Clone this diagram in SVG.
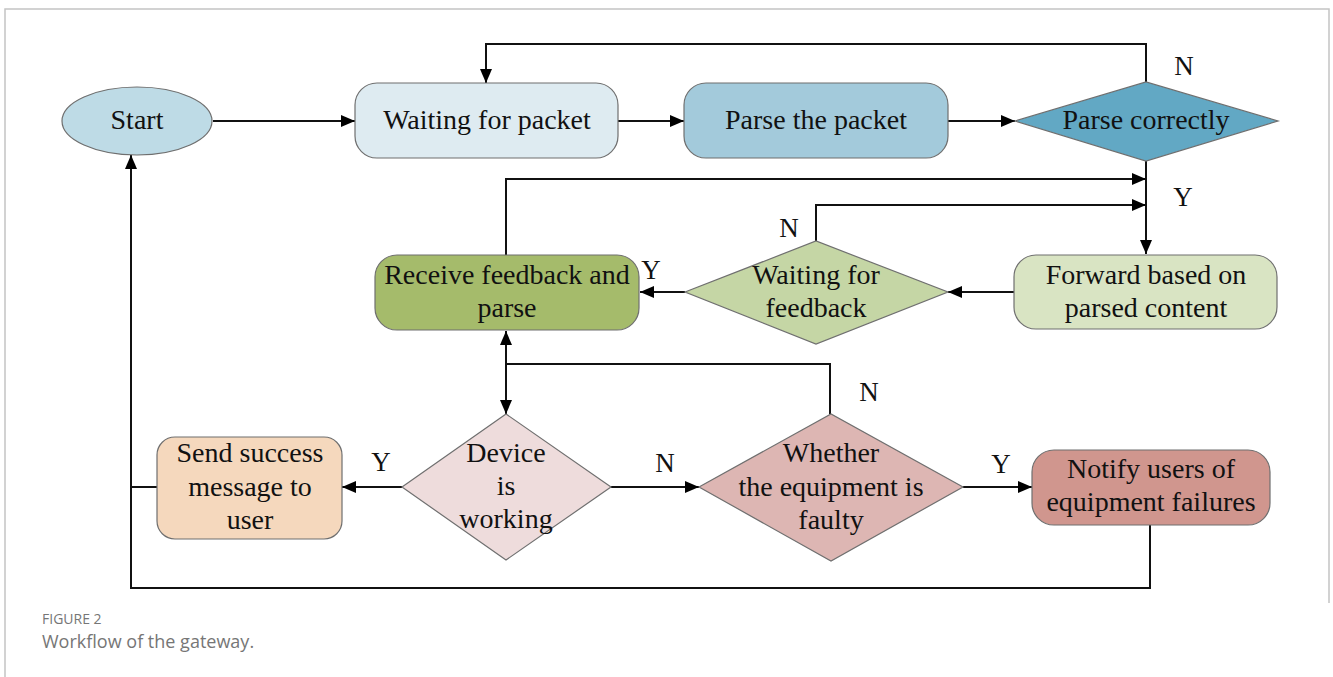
<svg xmlns="http://www.w3.org/2000/svg" width="1333" height="677" viewBox="0 0 1333 677">
  <defs>
    <marker id="arrow" viewBox="0 0 14 12" refX="14" refY="6" markerWidth="14" markerHeight="12" markerUnits="userSpaceOnUse" orient="auto">
      <path d="M0,0 L14,6 L0,12 Z" fill="#000"/>
    </marker>
  </defs>
  <style>
    .node { stroke: #6f6f6f; stroke-width: 1.2; }
    .lbl { font-family: "Liberation Serif", "Times New Roman", serif; font-size: 28px; fill: #111; text-anchor: middle; }
    .yn { font-family: "Liberation Serif", "Times New Roman", serif; font-size: 27px; fill: #111; text-anchor: middle; }
    .wire { fill: none; stroke: #111; stroke-width: 2; }
    .cap1 { font-family: "Open Sans", "Noto Sans", sans-serif; font-size: 14px; fill: #767676; }
    .cap2 { font-family: "Open Sans", "Noto Sans", sans-serif; font-size: 18px; fill: #767676; }
  </style>

  <rect width="1333" height="677" fill="#fff"/>
  <!-- figure frame -->
  <path d="M5,677 V9 H1329 V603" fill="none" stroke="#c4c4c4" stroke-width="1.5"/>

  <!-- connectors -->
  <g id="connectors">
    <path class="wire" d="M213,121 H355" marker-end="url(#arrow)"/>
    <path class="wire" d="M618,121 H684" marker-end="url(#arrow)"/>
    <path class="wire" d="M948,121 H1015" marker-end="url(#arrow)"/>
    <path class="wire" d="M1146,82 V44 H486 V83" marker-end="url(#arrow)"/>
    <path class="wire" d="M1146,161 V254" marker-end="url(#arrow)"/>
    <path class="wire" d="M506,255 V179 H1146" marker-end="url(#arrow)"/>
    <path class="wire" d="M816,241 V205 H1146" marker-end="url(#arrow)"/>
    <path class="wire" d="M1014,292 H948" marker-end="url(#arrow)"/>
    <path class="wire" d="M685,292 H640" marker-end="url(#arrow)"/>
    <path class="wire" d="M830,414 V364 H506 V331" marker-end="url(#arrow)"/>
    <path class="wire" d="M506,364 V414" marker-end="url(#arrow)"/>
    <path class="wire" d="M402,487 H342" marker-end="url(#arrow)"/>
    <path class="wire" d="M611,487 H699" marker-end="url(#arrow)"/>
    <path class="wire" d="M963,487 H1032" marker-end="url(#arrow)"/>
    <path class="wire" d="M1150,525 V588 H131 V155" marker-end="url(#arrow)"/>
    <path class="wire" d="M157,487 H131"/>
    <text class="yn" x="1184" y="75">N</text>
    <text class="yn" x="1183" y="206">Y</text>
    <text class="yn" x="789" y="237">N</text>
    <text class="yn" x="651" y="279">Y</text>
    <text class="yn" x="381" y="471">Y</text>
    <text class="yn" x="665" y="472">N</text>
    <text class="yn" x="869" y="401">N</text>
    <text class="yn" x="1001" y="473">Y</text>
  </g>

  <g id="start">
    <ellipse class="node" cx="137" cy="121" rx="75" ry="34" fill="#bedbe6"/>
    <text class="lbl" x="137" y="129">Start</text>
  </g>
  <g id="wait-packet">
    <rect class="node" x="355" y="83" width="263" height="75" rx="22" fill="#deebf1"/>
    <text class="lbl" x="487" y="129">Waiting for packet</text>
  </g>
  <g id="parse-packet">
    <rect class="node" x="684" y="83" width="264" height="75" rx="22" fill="#a3cadb"/>
    <text class="lbl" x="816" y="129">Parse the packet</text>
  </g>
  <g id="parse-ok">
    <polygon class="node" points="1015,121 1146,82 1278,121 1146,161" fill="#62a8c4"/>
    <text class="lbl" x="1146" y="129">Parse correctly</text>
  </g>
  <g id="forward">
    <rect class="node" x="1014" y="255" width="263" height="74" rx="22" fill="#d9e4c3"/>
    <text class="lbl" x="1146" y="284">Forward based on</text>
    <text class="lbl" x="1146" y="317">parsed content</text>
  </g>
  <g id="wait-feedback">
    <polygon class="node" points="685,292 816,241 948,292 816,344" fill="#c5d6a5"/>
    <text class="lbl" x="816" y="284">Waiting for</text>
    <text class="lbl" x="816" y="317">feedback</text>
  </g>
  <g id="receive">
    <rect class="node" x="375" y="255" width="264" height="75" rx="22" fill="#a5bb6b"/>
    <text class="lbl" x="507" y="284">Receive feedback and</text>
    <text class="lbl" x="507" y="317">parse</text>
  </g>
  <g id="device-working">
    <polygon class="node" points="402,487 506,414 611,487 506,560" fill="#eedcdc"/>
    <text class="lbl" x="506" y="462">Device</text>
    <text class="lbl" x="506" y="495">is</text>
    <text class="lbl" x="506" y="528">working</text>
  </g>
  <g id="send-success">
    <rect class="node" x="157" y="437" width="185" height="102" rx="18" fill="#f5d8bd"/>
    <text class="lbl" x="250" y="462">Send success</text>
    <text class="lbl" x="250" y="496">message to</text>
    <text class="lbl" x="250" y="529">user</text>
  </g>
  <g id="faulty">
    <polygon class="node" points="699,487 831,414 963,487 831,561" fill="#ddb6b3"/>
    <text class="lbl" x="831" y="462">Whether</text>
    <text class="lbl" x="831" y="496">the equipment is</text>
    <text class="lbl" x="831" y="529">faulty</text>
  </g>
  <g id="notify">
    <rect class="node" x="1032" y="450" width="238" height="75" rx="22" fill="#d0968e"/>
    <text class="lbl" x="1151" y="478">Notify users of</text>
    <text class="lbl" x="1151" y="511">equipment failures</text>
  </g>

  <!-- caption -->
  <text class="cap1" x="42" y="624">FIGURE 2</text>
  <text class="cap2" x="42" y="648">Workflow of the gateway.</text>
</svg>
